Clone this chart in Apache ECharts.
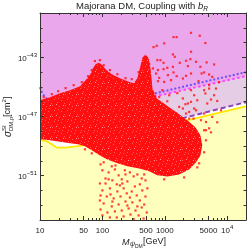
<!DOCTYPE html>
<html><head><meta charset="utf-8">
<script src="https://cdn.jsdelivr.net/npm/echarts@6/dist/echarts.min.js"></script>
<style>html,body{margin:0;padding:0;background:#fff}#c{width:249px;height:249px}</style>
</head><body><div id="c"></div>
<script>
// ---- axis ranges (log10 units: mass in GeV, cross section in cm^2) ----
const xRange = [1, Math.log10(20000)];
const yRange = [-54, -40];
const xMajorTicks = [10, 50, 100, 500, 1000, 5000, 10000];
const xMinorTicks = [20,30,40,60,70,80,90,200,300,400,600,700,800,900,2000,3000,4000,6000,7000,8000,9000];
const yLabelExps = [-51, -47, -43];
const yMinorExps = [-54,-53,-52,-50,-49,-48,-46,-45,-44,-42,-41,-40];

// ---- experimental curves (log10 M, log10 sigma) ----
const blueLogM = [1.00,1.03,1.08,1.16,1.32,1.56,1.80,2.12,2.44,2.91,3.55,4.30];
const blueLogS = [-45.02,-45.36,-45.69,-45.97,-46.17,-46.20,-46.17,-46.07,-45.84,-45.37,-44.73,-44.00];
const magentaLogM = [1.00,1.96,2.28,2.75,4.30];
const magentaLogS = [-46.03,-46.20,-46.14,-45.73,-44.27];
const purpleLogM = [1.00,1.64,2.28,2.96,4.30];
const purpleLogS = [-48.41,-48.47,-48.14,-47.46,-46.03];
const floorLogM = [1.00,1.11,1.19,1.27,1.41,1.64,1.96,2.44,2.87,3.39,4.30];
const floorLogS = [-48.58,-48.68,-48.88,-49.11,-49.11,-48.98,-48.61,-48.07,-47.66,-47.22,-46.31];

// ---- dense region of scan points (outline) ----
const cloudLogM = [1.00,1.16,1.32,1.48,1.64,1.73,1.80,1.85,1.89,1.94,1.99,2.05,2.15,2.28,2.40,2.50,2.56,2.61,2.64,2.69,2.74,2.77,2.79,2.80,2.87,2.96,3.07,3.23,3.36,3.49,3.57,3.60,3.57,3.50,3.39,3.23,3.04,2.88,2.75,2.59,2.40,2.24,2.08,1.96,1.83,1.72,1.61,1.48,1.32,1.16,1.00];
const cloudLogS = [-45.90,-45.69,-45.42,-45.22,-44.95,-44.54,-44.20,-43.73,-43.46,-43.36,-43.49,-43.80,-44.14,-44.41,-44.61,-44.75,-44.41,-43.59,-43.02,-42.81,-43.05,-43.73,-44.54,-45.08,-45.76,-46.03,-46.37,-46.85,-47.25,-47.73,-48.27,-48.95,-49.63,-50.10,-50.58,-50.92,-51.05,-50.98,-50.71,-50.51,-50.37,-50.17,-49.90,-49.63,-49.29,-49.02,-48.88,-48.81,-48.71,-48.61,-48.54];

// ---- sparse scan points ----
const sparseLogM = [3.42,3.56,3.14,3.19,3.65,2.82,2.87,2.99,3.42,3.13,3.16,3.41,2.88,2.93,2.98,3.24,3.34,3.67,3.79,3.57,3.37,3.13,3.04,2.98,3.14,3.63,3.71,3.42,3.34,3.05,3.29,2.91,3.76,2.99,3.10,2.89,2.86,2.89,2.81,3.50,3.59,3.19,3.71,3.65,3.74,3.52,3.42,3.29,3.33,3.23,3.50,3.39,3.63,3.76,3.58,3.46,3.71,3.82,3.79,3.63,3.42,3.47,3.37,3.68,3.84,3.29,3.47,3.18,3.34,3.39,3.66,3.66,3.71,3.66,3.63,3.55,3.20,3.07,2.96,3.54,3.87,3.90,3.84,3.74,
  2.00,2.10,2.20,2.26,2.05,2.16,1.96,2.23,2.31,2.37,2.44,2.50,2.40,2.56,2.63,2.67,2.60,2.52,2.34,2.24,2.12,2.00,2.07,2.18,2.29,2.39,2.47,2.55,2.64,2.69,2.60,2.48,2.37,2.26,2.15,2.02,1.97,2.08,2.20,2.31,2.42,2.53,2.63,2.71,2.58,2.45,2.34,2.23,2.12,2.00,2.66,2.50,2.40,2.13,2.28,2.05,1.97,2.02,2.15,2.21,2.36,2.69,2.72,1.96,1.97,2.67,2.56,2.16,2.44,2.32,2.10,
  1.06,1.19,1.29,1.41,1.54,1.67,1.77,1.83,1.88,1.96,2.02,2.12,2.24,2.37,2.47,2.58,2.80,2.91,3.04,2.75,3.63,3.52,3.31,2.99,1.83,1.72];
const sparseLogS = [-41.34,-41.54,-41.63,-41.63,-42.03,-42.31,-42.22,-42.05,-42.62,-42.80,-42.96,-43.12,-43.19,-43.19,-43.37,-43.37,-43.23,-43.34,-43.48,-43.64,-43.59,-43.64,-43.71,-43.80,-44.02,-44.02,-44.16,-44.09,-44.25,-44.20,-44.43,-44.39,-44.32,-44.66,-44.54,-44.61,-44.09,-43.86,-43.75,-43.30,-44.09,-44.27,-45.11,-45.44,-45.85,-45.90,-46.01,-45.78,-46.17,-46.35,-46.58,-46.69,-46.80,-47.03,-47.25,-47.14,-44.88,-45.11,-45.56,-45.22,-45.22,-45.56,-46.12,-46.12,-45.95,-46.46,-46.46,-46.80,-46.80,-47.14,-47.37,-47.93,-47.80,-48.61,-49.42,-50.17,-45.42,-45.56,-45.22,-44.61,-44.68,-46.58,-47.39,-48.07,
  -50.64,-50.78,-50.58,-50.98,-51.19,-51.32,-51.53,-51.59,-51.25,-50.92,-50.78,-51.05,-51.39,-50.92,-51.19,-50.92,-51.59,-51.73,-51.86,-52.07,-51.86,-52.00,-52.41,-52.54,-52.41,-52.20,-52.07,-52.34,-52.00,-52.41,-52.68,-52.81,-52.75,-52.95,-53.08,-52.88,-53.29,-53.49,-53.42,-53.36,-53.22,-53.36,-53.15,-53.49,-53.69,-53.63,-53.76,-53.83,-53.83,-53.69,-53.90,-53.93,-53.02,-52.27,-51.66,-51.53,-50.24,-50.10,-50.37,-50.31,-50.64,-51.32,-51.86,-52.68,-52.34,-52.95,-53.08,-52.75,-52.48,-51.53,-51.25,
  -45.69,-45.49,-45.29,-45.08,-44.88,-44.68,-44.27,-43.86,-43.25,-43.19,-43.53,-43.86,-44.14,-44.41,-44.47,-44.00,-45.36,-45.69,-45.97,-43.46,-47.93,-50.44,-51.12,-51.25,-49.49,-49.22];

const pair = (xs, ys) => xs.map((x, i) => [x, ys[i]]);

// speckled red fill for the dense point cloud (style only)
function speckle() {
  const c = document.createElement('canvas'); c.width = 13; c.height = 11;
  const g = c.getContext('2d');
  g.fillStyle = '#FF0F0F'; g.fillRect(0, 0, 13, 11);
  g.fillStyle = '#FF5A5A';
  [[2,0],[9,1],[5,3],[12,4],[0,6],[7,7],[3,9],[10,9],[6,10]].forEach(p => g.fillRect(p[0], p[1], 1, 1));
  g.fillStyle = '#FF9AA8';
  [[11,6],[4,5]].forEach(p => g.fillRect(p[0], p[1], 1, 1));
  return { image: c, repeat: 'repeat' };
}

function polygonSeries(pts, fill, z) {
  return {
    type: 'custom', xAxisIndex: 0, yAxisIndex: 0, z: z, silent: true, clip: true,
    data: [pts[0]],
    encode: { x: 0, y: 1 },
    renderItem: function (params, api) {
      return { type: 'polygon', shape: { points: pts.map(p => api.coord(p)) }, style: { fill: fill } };
    }
  };
}
function lineSeries(xs, ys, color, dash, width, z) {
  return {
    type: 'line', xAxisIndex: 0, yAxisIndex: 0, z: z, silent: true, showSymbol: false, smooth: false,
    data: pair(xs, ys),
    lineStyle: { color: color, width: width, type: dash, cap: 'butt' }
  };
}

const magentaPts = pair(magentaLogM, magentaLogS);
const purplePts = pair(purpleLogM, purpleLogS);
const floorPts = pair(floorLogM, floorLogS);
const lavenderRegion = magentaPts.concat(purplePts.slice().reverse());
const whiteRegion = purplePts.concat([[xRange[1], yRange[0]], [xRange[0], yRange[0]]]);
const yellowRegion = floorPts.concat([[xRange[1], yRange[0]], [xRange[0], yRange[0]]]);

const FONT = 'Liberation Sans';
const AX = '#333';
const labRich = {
  b: { fontSize: 8, fontFamily: FONT, color: '#222', lineHeight: 11, verticalAlign: 'bottom' },
  s: { fontSize: 6, fontFamily: FONT, color: '#222', lineHeight: 6, verticalAlign: 'top' }
};

function xAx(pos, vals, len, main) {
  return {
    type: 'value', min: xRange[0], max: xRange[1], position: pos, z: 10,
    axisLine: { show: main, onZero: false, lineStyle: { color: AX, width: 1 } },
    axisTick: { show: true, inside: true, length: len, customValues: vals, lineStyle: { color: AX, width: 1 } },
    axisLabel: (main && pos === 'bottom') ? {
      show: true, customValues: vals, margin: 4, rich: labRich,
      formatter: function (v) { const m = Math.round(Math.pow(10, v)); return m === 10000 ? '{b|10}{s|4}' : '{b|' + m + '}'; }
    } : { show: false },
    splitLine: { show: false }
  };
}
function yAx(pos, vals, len, main) {
  return {
    type: 'value', min: yRange[0], max: yRange[1], position: pos, z: 10,
    axisLine: { show: main, onZero: false, lineStyle: { color: AX, width: 1 } },
    axisTick: { show: true, inside: true, length: len, customValues: vals, lineStyle: { color: AX, width: 1 } },
    axisLabel: (main && pos === 'left') ? {
      show: true, customValues: vals, margin: 3, rich: labRich,
      formatter: function (v) { return '{b|10}{s|\u2212' + Math.abs(Math.round(v)) + '}'; }
    } : { show: false },
    splitLine: { show: false }
  };
}

const chart = echarts.init(document.getElementById('c'), null, { renderer: 'canvas' });
chart.setOption({
  animation: false,
  backgroundColor: '#ffffff',
  grid: { left: 40, right: 3, top: 13, bottom: 29, show: true, backgroundColor: '#EBA7EB', borderWidth: 0 },
  xAxis: [
    xAx('bottom', xMajorTicks.map(Math.log10), 4, true),
    xAx('bottom', xMinorTicks.map(Math.log10), 2, false),
    xAx('top', xMajorTicks.map(Math.log10), 4, true),
    xAx('top', xMinorTicks.map(Math.log10), 2, false)
  ],
  yAxis: [
    yAx('left', yLabelExps, 4, true),
    yAx('left', yMinorExps, 2.5, false),
    yAx('right', yLabelExps, 4, true),
    yAx('right', yMinorExps, 2.5, false)
  ],
  graphic: [
    { type: 'text', x: 142, y: 6.5, silent: true,
      style: { text: 'Majorana DM, Coupling with {i|b}{s|R}', x: 0, y: 0, align: 'center', verticalAlign: 'middle',
        font: '9.5px "Liberation Sans"', fill: '#222',
        rich: { i: { fontStyle: 'italic', fontSize: 9.5, fontFamily: FONT, fill: '#222' },
                s: { fontStyle: 'italic', fontSize: 6.5, fontFamily: FONT, fill: '#222', verticalAlign: 'bottom', padding: [5, 0, 0, 0] } } } },
    { type: 'group', x: 8, y: 117, rotation: Math.PI / 2, silent: true, children: [
      { type: 'text', style: { text: '\u03C3', x: -20, y: 0, font: 'italic 10px "Liberation Sans"', fill: '#222', verticalAlign: 'middle' } },
      { type: 'text', style: { text: 'SI', x: -14, y: -4, font: '6px "Liberation Sans"', fill: '#222', verticalAlign: 'middle' } },
      { type: 'text', style: { text: 'DM,p', x: -14, y: 3.5, font: '6px "Liberation Sans"', fill: '#222', verticalAlign: 'middle' } },
      { type: 'text', style: { text: '[cm', x: 0, y: 0, font: '9px "Liberation Sans"', fill: '#222', verticalAlign: 'middle' } },
      { type: 'text', style: { text: '2', x: 14.5, y: -3.5, font: '6px "Liberation Sans"', fill: '#222', verticalAlign: 'middle' } },
      { type: 'text', style: { text: ']', x: 18, y: 0, font: '9px "Liberation Sans"', fill: '#222', verticalAlign: 'middle' } }
    ] },
    { type: 'group', x: 122, y: 242, silent: true, children: [
      { type: 'text', style: { text: 'M', x: 0, y: 0, font: 'italic 9px "Liberation Sans"', fill: '#222', verticalAlign: 'middle' } },
      { type: 'text', style: { text: '\u03C8', x: 8, y: 2.5, font: 'italic 7px "Liberation Sans"', fill: '#222', verticalAlign: 'middle' } },
      { type: 'text', style: { text: 'DM', x: 13, y: 4.5, font: '5px "Liberation Sans"', fill: '#222', verticalAlign: 'middle' } },
      { type: 'text', style: { text: '[GeV]', x: 21, y: 0, font: '9px "Liberation Sans"', fill: '#222', verticalAlign: 'middle' } }
    ] }
  ],
  series: [
    polygonSeries(lavenderRegion, '#E5CDE6', 1),
    polygonSeries(whiteRegion, '#FFFFFF', 1),
    polygonSeries(yellowRegion, '#FFFFBD', 1),
    lineSeries(purpleLogM, purpleLogS, '#8A46B4', [5, 3], 2, 3),
    lineSeries(floorLogM, floorLogS, '#FFE600', 'solid', 1.8, 3),
    lineSeries(magentaLogM, magentaLogS, '#FF44FF', [2.5, 2.5], 2, 3),
    lineSeries(blueLogM, blueLogS, '#6E50F5', [2, 2], 2, 3),
    polygonSeries(pair(cloudLogM, cloudLogS), speckle(), 4),
    { type: 'scatter', xAxisIndex: 0, yAxisIndex: 0, z: 5, silent: true, symbol: 'rect', symbolSize: 2.2,
      itemStyle: { color: '#FF1010' }, data: pair(sparseLogM, sparseLogS) }
  ]
});
</script></body></html>
